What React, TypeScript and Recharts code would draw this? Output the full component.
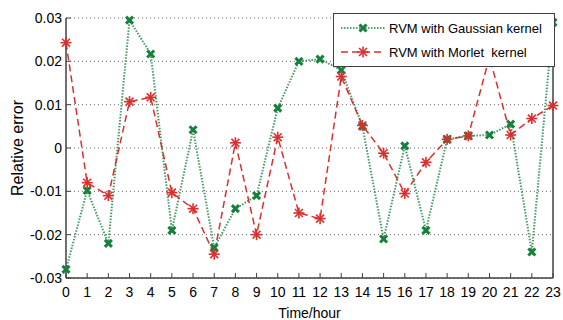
import React from 'react'
import { CartesianGrid, Legend, Line, LineChart, XAxis, YAxis } from 'recharts'

const hours = [0, 1, 2, 3, 4, 5, 6, 7, 8, 9, 10, 11, 12, 13, 14, 15, 16, 17, 18, 19, 20, 21, 22, 23]
const gaussian = [
    -0.028, -0.0098, -0.022, 0.0295, 0.0217, -0.019, 0.0042, -0.023, -0.014, -0.011, 0.0092, 0.02,
    0.0205, 0.018, 0.005, -0.021, 0.0005, -0.019, 0.002, 0.0028, 0.003, 0.0055, -0.024, 0.029,
]
const morlet = [
    0.0243, -0.008, -0.011, 0.0107, 0.0117, -0.0103, -0.014, -0.0245, 0.0012, -0.02, 0.0025, -0.015,
    -0.0163, 0.0165, 0.0052, -0.0012, -0.0105, -0.0033, 0.002, 0.0028, 0.021, 0.003, 0.0068, 0.0098,
]
const yTicks = [-0.03, -0.02, -0.01, 0, 0.01, 0.02, 0.03]
const seriesNames = ['RVM with Gaussian kernel', 'RVM with Morlet  kernel']

const data = hours.map((h, i) => ({ hour: h, gaussian: gaussian[i], morlet: morlet[i] }))

const GREEN = '#17803d'
const RED = '#d8302f'
const AXIS = '#404040'
const FONT = '"Liberation Sans", Arial, sans-serif'

const Cross = ({ cx, cy }: any) => {
    if (cx == null || cy == null) return null
    return (
        <g stroke={GREEN} strokeWidth={3} strokeLinecap="butt">
            <line x1={cx - 3.5} y1={cy - 3.5} x2={cx + 3.5} y2={cy + 3.5} />
            <line x1={cx - 3.5} y1={cy + 3.5} x2={cx + 3.5} y2={cy - 3.5} />
        </g>
    )
}

const Star = ({ cx, cy }: any) => {
    if (cx == null || cy == null) return null
    const r = 5.5
    const d = r * 0.72
    return (
        <g stroke={RED} strokeWidth={1.6}>
            <line x1={cx - r} y1={cy} x2={cx + r} y2={cy} />
            <line x1={cx} y1={cy - r} x2={cx} y2={cy + r} />
            <line x1={cx - d} y1={cy - d} x2={cx + d} y2={cy + d} />
            <line x1={cx - d} y1={cy + d} x2={cx + d} y2={cy - d} />
        </g>
    )
}

const LegendBox = () => (
    <div
        style={{
            width: 220,
            height: 52,
            background: '#fff',
            border: `1px solid ${AXIS}`,
            fontFamily: FONT,
            fontSize: 13,
            color: '#000',
            boxSizing: 'content-box',
            overflow: 'hidden',
        }}
    >
        {seriesNames.map((name, i) => (
            <div key={name} style={{ display: 'flex', alignItems: 'center', height: 24, marginTop: i === 0 ? 2 : 0 }}>
                <svg width={48} height={16} style={{ marginLeft: 5, flex: 'none' }}>
                    <line
                        x1={2}
                        y1={8}
                        x2={46}
                        y2={8}
                        stroke={i === 0 ? GREEN : RED}
                        strokeWidth={i === 0 ? 2 : 1.5}
                        strokeDasharray={i === 0 ? '1.5 1.5' : '7 4'}
                        opacity={i === 0 ? 0.75 : 1}
                    />
                    {i === 0 ? <Cross cx={24} cy={8} /> : <Star cx={24} cy={8} />}
                </svg>
                <span style={{ whiteSpace: 'pre', marginLeft: 2 }}>{name}</span>
            </div>
        ))}
    </div>
)

const fmtY = (v: number) => (v === 0 ? '0' : v.toFixed(2))

export default function App() {
    return (
        <div style={{ position: 'absolute', left: 0, top: 0 }}>
            <LineChart
                width={563}
                height={320}
                data={data}
                margin={{ top: 18, right: 0, bottom: 0, left: 0 }}
                style={{ fontFamily: FONT }}
            >
                <CartesianGrid vertical={false} stroke="#666" strokeDasharray="1 3" />
                <XAxis
                    dataKey="hour"
                    type="number"
                    domain={[0, 23]}
                    ticks={hours}
                    interval={0}
                    height={42}
                    tickSize={-5}
                    tickMargin={14}
                    axisLine={{ stroke: AXIS, strokeWidth: 1.5 }}
                    tickLine={{ stroke: AXIS }}
                    tick={{ fill: '#000', fontSize: 14 }}
                    label={{ value: 'Time/hour', position: 'insideBottom', offset: 2, fill: '#000', fontSize: 14 }}
                />
                <XAxis
                    xAxisId="top"
                    orientation="top"
                    type="number"
                    domain={[0, 23]}
                    ticks={hours}
                    interval={0}
                    height={0}
                    tickSize={-5}
                    tickFormatter={() => ''}
                    axisLine={{ stroke: AXIS, strokeWidth: 1.5 }}
                    tickLine={{ stroke: AXIS }}
                />
                <YAxis
                    type="number"
                    domain={[-0.03, 0.03]}
                    ticks={yTicks}
                    interval={0}
                    width={66}
                    tickSize={-5}
                    tickMargin={9}
                    tickFormatter={fmtY}
                    axisLine={{ stroke: AXIS, strokeWidth: 1.5 }}
                    tickLine={{ stroke: AXIS }}
                    tick={{ fill: '#000', fontSize: 14 }}
                    label={{
                        value: 'Relative error',
                        angle: -90,
                        position: 'insideLeft',
                        offset: 17,
                        fill: '#000',
                        fontSize: 16,
                        style: { textAnchor: 'middle' },
                    }}
                />
                <YAxis
                    yAxisId="right"
                    orientation="right"
                    type="number"
                    domain={[-0.03, 0.03]}
                    ticks={yTicks}
                    interval={0}
                    width={10}
                    tickSize={-5}
                    tickFormatter={() => ''}
                    axisLine={{ stroke: AXIS, strokeWidth: 1.5 }}
                    tickLine={{ stroke: AXIS }}
                />
                <Line
                    dataKey="gaussian"
                    name={seriesNames[0]}
                    stroke={GREEN}
                    strokeWidth={2}
                    strokeOpacity={0.8}
                    strokeDasharray="1.5 1.5"
                    dot={<Cross />}
                    activeDot={false}
                    isAnimationActive={false}
                />
                <Line
                    dataKey="morlet"
                    name={seriesNames[1]}
                    stroke={RED}
                    strokeWidth={1.5}
                    strokeDasharray="7 4"
                    dot={<Star />}
                    activeDot={false}
                    isAnimationActive={false}
                />
                <Legend
                    layout="vertical"
                    align="center"
                    verticalAlign="middle"
                    content={<LegendBox />}
                    wrapperStyle={{ left: 333, top: 13, width: 222, height: 54 }}
                />
            </LineChart>
        </div>
    )
}
